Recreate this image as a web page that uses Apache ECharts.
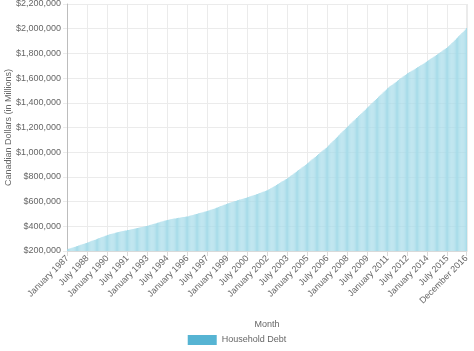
<!DOCTYPE html>
<html>
<head>
<meta charset="utf-8">
<script src="https://cdn.jsdelivr.net/npm/echarts@6/dist/echarts.min.js"></script>
<style>
html,body{margin:0;padding:0;background:#fff;}
#chart{width:474px;height:351px;}
</style>
</head>
<body>
<div id="chart"></div>
<script>
const monthNames = ["January","February","March","April","May","June","July","August","September","October","November","December"];
const firstYear = 1987;
const lastYear = 2016;
const seriesName = "Household Debt";
const yAxisTitle = "Canadian Dollars (in Millions)";
const xAxisTitle = "Month";
const yTicks = {min: 200000, max: 2200000, step: 200000};

const householdDebt = [
 215000,218000,221000,223000,226000,229000,232000,235000,238000,241000,244000,247000,
 250000,253000,256000,259000,262000,265000,268000,271000,275000,278000,282000,285000,
 289000,292000,296000,299000,303000,306000,310000,313000,316000,320000,323000,326000,
 330000,332000,335000,337000,340000,342000,344000,347000,349000,351000,353000,355000,
 357000,359000,361000,363000,365000,367000,370000,371000,373000,375000,377000,379000,
 381000,383000,385000,387000,389000,391000,393000,395000,397000,399000,401000,403000,
 405000,407000,410000,413000,415000,418000,420000,423000,425000,428000,431000,433000,
 436000,438000,441000,444000,446000,449000,452000,454000,456000,458000,460000,461000,
 463000,464000,466000,467000,469000,470000,472000,473000,475000,476000,478000,479000,
 480000,482000,485000,487000,490000,492000,495000,497000,500000,502000,505000,507000,
 510000,512000,514000,517000,519000,522000,524000,527000,530000,534000,537000,540000,
 543000,547000,550000,553000,557000,560000,564000,567000,570000,574000,577000,580000,
 584000,587000,590000,593000,596000,599000,602000,604000,607000,610000,613000,616000,
 618000,621000,624000,627000,630000,632000,635000,638000,641000,644000,647000,650000,
 653000,656000,659000,662000,666000,669000,672000,675000,679000,682000,685000,689000,
 692000,697000,702000,708000,713000,718000,724000,729000,735000,740000,745000,751000,
 756000,762000,767000,773000,778000,784000,789000,796000,802000,809000,815000,822000,
 829000,835000,842000,849000,855000,862000,869000,876000,882000,889000,896000,903000,
 910000,917000,925000,932000,940000,947000,955000,962000,970000,977000,985000,992000,
 1000000,1007000,1015000,1022000,1030000,1037000,1045000,1054000,1063000,1072000,1081000,1090000,
 1099000,1108000,1117000,1126000,1135000,1144000,1153000,1162000,1171000,1180000,1189000,1198000,
 1206000,1215000,1224000,1232000,1241000,1250000,1258000,1267000,1276000,1284000,1293000,1302000,
 1310000,1318000,1327000,1336000,1344000,1353000,1362000,1371000,1379000,1388000,1396000,1405000,
 1414000,1422000,1431000,1439000,1448000,1457000,1465000,1474000,1483000,1491000,1500000,1508000,
 1517000,1524000,1531000,1538000,1544000,1551000,1558000,1565000,1571000,1578000,1585000,1592000,
 1598000,1605000,1612000,1619000,1625000,1632000,1639000,1644000,1649000,1654000,1659000,1664000,
 1670000,1675000,1681000,1687000,1692000,1698000,1704000,1709000,1715000,1721000,1726000,1732000,
 1738000,1744000,1750000,1756000,1762000,1769000,1775000,1781000,1787000,1793000,1800000,1806000,
 1812000,1818000,1825000,1831000,1837000,1844000,1850000,1858000,1866000,1875000,1884000,1893000,
 1902000,1911000,1920000,1929000,1938000,1947000,1956000,1965000,1974000,1984000,1994000,2005000
];

const categories = [];
for (let y = firstYear; y <= lastYear; y++) {
  for (const m of monthNames) categories.push(m + " " + y);
}
const lastIdx = categories.length - 1;
const showTick = (i) => i % 18 === 0 || i === lastIdx;

const font = "'Helvetica Neue', Helvetica, Arial, 'Liberation Sans', sans-serif";
const chart = echarts.init(document.getElementById('chart'), null, {renderer: 'canvas'});
chart.setOption({
  animation: false,
  textStyle: {fontFamily: font},
  grid: {left: 67, right: 7, top: 4, bottom: 100, containLabel: false, outerBoundsMode: 'none'},
  legend: {
    top: 330, left: 'center',
    itemWidth: 29, itemHeight: 10, itemGap: 10,
    icon: 'rect',
    textStyle: {color: '#666', fontSize: 9, fontFamily: font},
    data: [{name: seriesName, itemStyle: {color: '#56b4d3', borderWidth: 0}}]
  },
  xAxis: {
    type: 'category',
    data: categories,
    name: xAxisTitle,
    nameLocation: 'middle',
    nameGap: 69,
    nameTextStyle: {color: '#666', fontSize: 9, fontFamily: font},
    axisLine: {show: true, lineStyle: {color: '#d9d9d9'}},
    axisTick: {show: true, interval: (i) => showTick(i), alignWithLabel: true, length: 5, lineStyle: {color: '#d9d9d9'}},
    axisLabel: {interval: (i) => showTick(i), rotate: 45, color: '#666', fontSize: 9, margin: 6, fontFamily: font},
    splitLine: {show: true, interval: (i) => showTick(i), lineStyle: {color: '#ebebeb'}}
  },
  yAxis: {
    type: 'value',
    min: yTicks.min, max: yTicks.max, interval: yTicks.step,
    name: yAxisTitle,
    nameLocation: 'middle',
    nameGap: 54,
    nameMoveOverlap: false,
    nameTextStyle: {color: '#666', fontSize: 9, fontFamily: font},
    axisLine: {show: true, lineStyle: {color: '#bdbdbd'}},
    axisTick: {show: true, length: 4, lineStyle: {color: '#ebebeb'}},
    axisLabel: {color: '#666', fontSize: 9, margin: 6, fontFamily: font,
      formatter: (v) => '$' + v.toLocaleString('en-US')},
    splitLine: {show: true, lineStyle: {color: '#ebebeb'}}
  },
  series: [{
    name: seriesName,
    type: 'bar',
    data: householdDebt,
    barWidth: '70%',
    itemStyle: {color: '#a6dbe9'},
    emphasis: {disabled: true}
  }]
});
</script>
</body>
</html>
